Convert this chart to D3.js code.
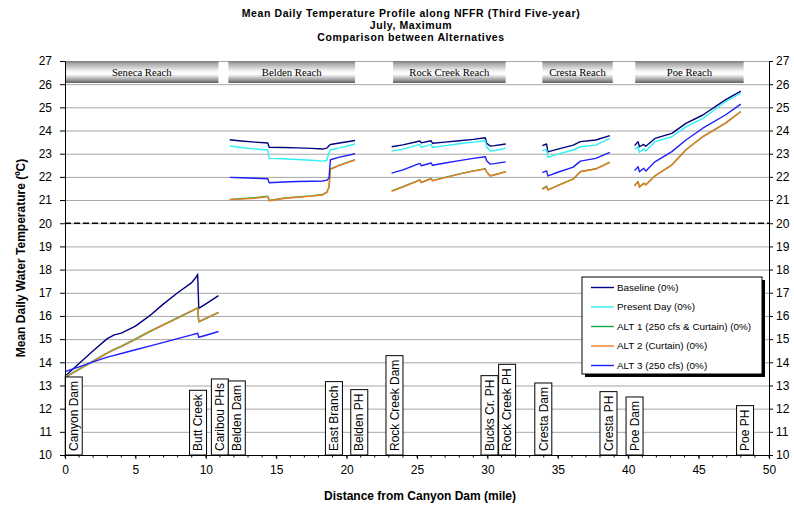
<!DOCTYPE html>
<html>
<head>
<meta charset="utf-8">
<script src="https://cdn.jsdelivr.net/npm/d3@7/dist/d3.min.js"></script>
<style>
  html, body { margin: 0; padding: 0; background: #fff; }
  svg { display: block; }
  text { font-family: Arial, "Liberation Sans", sans-serif; }
</style>
</head>
<body>
<svg id="chart" width="794" height="506"></svg>
<script>
// ---- Series ----
const seriesNames = ["Baseline (0%)", "Present Day (0%)", "ALT 1 (250 cfs & Curtain) (0%)", "ALT 2 (Curtain) (0%)", "ALT 3 (250 cfs) (0%)"];
const seriesColors = ["#000080", "#2ef0f5", "#12a84a", "#f07c1f", "#1f1fff"];

// ---- Reaches (miles from Canyon Dam) ----
const reachNames = ["Seneca Reach", "Belden Reach", "Rock Creek Reach", "Cresta Reach", "Poe Reach"];
const reachStart = [0, 11.6, 23.3, 33.9, 40.5];
const reachEnd   = [10.9, 20.6, 31.3, 38.9, 48.2];

// ---- Landmarks along the river ----
const siteNames = ["Canyon Dam", "Butt Creek", "Caribou PHs", "Belden Dam", "East Branch", "Belden PH",
                   "Rock Creek Dam", "Bucks Cr. PH", "Rock Creek PH", "Cresta Dam", "Cresta PH", "Poe Dam", "Poe PH"];
const siteMiles = [0.62, 9.45, 11.0, 12.2, 19.1, 20.9, 23.4, 30.15, 31.4, 33.97, 38.6, 40.45, 48.3];

// ---- Temperature profiles (deg C) ----
const senecaMiles    = [0, 1, 2, 3, 3.5, 4, 5, 6, 7, 8, 9, 9.3, 9.42, 9.5, 10.2, 10.9];
const senecaBaseline = [13.4, 13.95, 14.5, 15.02, 15.18, 15.26, 15.56, 16.0, 16.52, 17.0, 17.44, 17.66, 17.8, 16.33, 16.6, 16.88];
const senecaPresent  = [13.37, 13.72, 14.07, 14.42, 14.58, 14.71, 15.02, 15.34, 15.64, 15.94, 16.23, 16.32, 16.37, 15.76, 15.96, 16.16];
const senecaAlt1     = [13.34, 13.69, 14.04, 14.39, 14.55, 14.68, 14.99, 15.31, 15.61, 15.91, 16.21, 16.3, 16.34, 15.74, 15.94, 16.14];
const senecaAlt2     = [13.35, 13.7, 14.05, 14.4, 14.56, 14.69, 15.0, 15.32, 15.62, 15.92, 16.22, 16.31, 16.35, 15.75, 15.95, 16.15];
const senecaAlt3     = [13.6, 13.8, 14.02, 14.22, 14.3, 14.38, 14.54, 14.7, 14.86, 15.02, 15.18, 15.23, 15.26, 15.08, 15.2, 15.33];

const beldenMiles    = [11.7, 12.5, 13.5, 14.4, 14.5, 15.5, 16.5, 17.5, 18.3, 18.6, 18.75, 18.85, 19.5, 20.6];
const beldenBaseline = [23.6, 23.55, 23.5, 23.46, 23.28, 23.27, 23.25, 23.23, 23.2, 23.24, 23.34, 23.4, 23.46, 23.57];
const beldenPresent  = [23.33, 23.27, 23.2, 23.16, 22.8, 22.78, 22.75, 22.72, 22.68, 22.72, 23.05, 23.16, 23.25, 23.42];
const beldenAlt1     = [21.03, 21.06, 21.1, 21.17, 20.98, 21.08, 21.13, 21.18, 21.24, 21.34, 21.57, 22.34, 22.51, 22.74];
const beldenAlt2     = [21.02, 21.04, 21.08, 21.15, 20.97, 21.07, 21.12, 21.17, 21.22, 21.33, 21.55, 22.33, 22.5, 22.73];
const beldenAlt3     = [21.98, 21.96, 21.94, 21.92, 21.75, 21.78, 21.8, 21.81, 21.82, 21.86, 21.95, 22.74, 22.85, 23.0];

const rockMiles      = [23.2, 24, 25.2, 25.3, 26.0, 26.1, 27, 28, 29, 29.85, 29.95, 30.2, 30.5, 31.3];
const rockBaseline   = [23.3, 23.38, 23.55, 23.47, 23.56, 23.45, 23.5, 23.56, 23.62, 23.69, 23.45, 23.33, 23.35, 23.42];
const rockPresent    = [23.11, 23.2, 23.4, 23.27, 23.4, 23.27, 23.35, 23.43, 23.5, 23.56, 23.3, 23.11, 23.14, 23.23];
const rockAlt1       = [21.4, 21.58, 21.87, 21.76, 21.93, 21.84, 21.98, 22.13, 22.26, 22.35, 22.21, 22.05, 22.09, 22.23];
const rockAlt2       = [21.38, 21.56, 21.86, 21.75, 21.92, 21.83, 21.97, 22.12, 22.25, 22.34, 22.2, 22.04, 22.08, 22.22];
const rockAlt3       = [22.16, 22.3, 22.58, 22.48, 22.6, 22.5, 22.6, 22.7, 22.8, 22.87, 22.7, 22.55, 22.57, 22.65];

const crestaMiles    = [33.9, 34.2, 34.3, 35, 36.1, 36.6, 37.7, 38.7];
const crestaBaseline = [23.35, 23.42, 23.08, 23.2, 23.37, 23.52, 23.59, 23.78];
const crestaPresent  = [23.13, 23.19, 22.84, 22.98, 23.16, 23.3, 23.37, 23.66];
const crestaAlt1     = [21.48, 21.6, 21.44, 21.63, 21.91, 22.23, 22.35, 22.64];
const crestaAlt2     = [21.46, 21.57, 21.43, 21.62, 21.9, 22.22, 22.34, 22.63];
const crestaAlt3     = [22.18, 22.26, 22.04, 22.2, 22.42, 22.68, 22.8, 23.06];

const poeMiles       = [40.45, 40.7, 40.8, 41.1, 41.25, 41.9, 43.1, 44.1, 45.3, 46.9, 48.0];
const poeBaseline    = [23.35, 23.52, 23.3, 23.4, 23.32, 23.66, 23.88, 24.31, 24.67, 25.32, 25.7];
const poePresent     = [23.19, 23.3, 23.06, 23.2, 23.12, 23.52, 23.73, 24.16, 24.52, 25.24, 25.62];
const poeAlt1        = [21.62, 21.8, 21.56, 21.73, 21.66, 22.05, 22.52, 23.17, 23.74, 24.32, 24.82];
const poeAlt2        = [21.6, 21.79, 21.55, 21.72, 21.65, 22.04, 22.51, 23.16, 23.73, 24.31, 24.81];
const poeAlt3        = [22.27, 22.44, 22.22, 22.37, 22.25, 22.65, 23.09, 23.59, 24.1, 24.67, 25.14];

const xTicks = [0, 5, 10, 15, 20, 25, 30, 35, 40, 45, 50];
const yTicks = d3.range(10, 28);
const thresholdTemp = 20;

// group the profile arrays by series, one segment per reach
const reachMiles = [senecaMiles, beldenMiles, rockMiles, crestaMiles, poeMiles];
const seriesByReach = [
  [senecaBaseline, beldenBaseline, rockBaseline, crestaBaseline, poeBaseline],
  [senecaPresent,  beldenPresent,  rockPresent,  crestaPresent,  poePresent],
  [senecaAlt1,     beldenAlt1,     rockAlt1,     crestaAlt1,     poeAlt1],
  [senecaAlt2,     beldenAlt2,     rockAlt2,     crestaAlt2,     poeAlt2],
  [senecaAlt3,     beldenAlt3,     rockAlt3,     crestaAlt3,     poeAlt3]
];

// ---- Layout ----
const svg = d3.select("#chart");
const x = d3.scaleLinear().domain([0, 50]).range([65, 769]);
const y = d3.scaleLinear().domain([10, 27]).range([455, 61]);

// gradient for reach banners
const defs = svg.append("defs");
const grad = defs.append("linearGradient").attr("id", "banner").attr("x1", 0).attr("y1", 0).attr("x2", 0).attr("y2", 1);
[[0, "#7a7a7a"], [0.12, "#a8a8a8"], [0.45, "#f4f4f4"], [0.6, "#ffffff"], [0.85, "#a0a0a0"], [1, "#5e5e5e"]]
  .forEach(([o, c]) => grad.append("stop").attr("offset", o).attr("stop-color", c));

// horizontal gridlines
svg.append("g").selectAll("line").data(yTicks.filter(v => v > 10)).join("line")
  .attr("x1", x(0)).attr("x2", x(50))
  .attr("y1", d => y(d) + 0.5).attr("y2", d => y(d) + 0.5)
  .attr("stroke", "#a6a6a6").attr("stroke-width", 1);

// 20 deg threshold
svg.append("line")
  .attr("x1", x(0)).attr("x2", x(50))
  .attr("y1", y(thresholdTemp)).attr("y2", y(thresholdTemp))
  .attr("stroke", "#000").attr("stroke-width", 1.5).attr("stroke-dasharray", "6,3");

// reach banners
const banners = svg.append("g");
banners.selectAll("rect").data(reachNames).join("rect")
  .attr("x", (d, i) => x(reachStart[i]))
  .attr("width", (d, i) => x(reachEnd[i]) - x(reachStart[i]))
  .attr("y", y(27)).attr("height", y(26.05) - y(27))
  .attr("fill", "url(#banner)");
banners.selectAll("text").data(reachNames).join("text")
  .attr("x", (d, i) => (x(reachStart[i]) + x(reachEnd[i])) / 2)
  .attr("y", (y(27) + y(26.05)) / 2 + 4)
  .attr("text-anchor", "middle")
  .style("font-family", "'Liberation Serif', 'Times New Roman', serif")
  .style("font-size", "10.7px")
  .text(d => d);

// temperature lines
const line = d3.line().x(d => x(d[0])).y(d => y(d[1]));
const lines = svg.append("g").attr("fill", "none").attr("stroke-linejoin", "round");
seriesByReach.forEach((segs, si) => {
  segs.forEach((vals, ri) => {
    const pts = reachMiles[ri].map((m, k) => [m, vals[k]]);
    lines.append("path").attr("d", line(pts))
      .attr("stroke", seriesColors[si]).attr("stroke-width", 1.4);
  });
});

// landmark labels
const sites = svg.append("g");
siteNames.forEach((name, i) => {
  const cx = x(siteMiles[i]);
  const g = sites.append("g");
  const rect = g.append("rect");
  const t = g.append("text")
    .attr("transform", `translate(${cx},451) rotate(-90)`)
    .attr("dy", "0.35em")
    .style("font-size", "12px")
    .text(name);
  const len = t.node().getComputedTextLength();
  rect.attr("x", cx - 8.5).attr("width", 17)
    .attr("y", 451 - len - 4).attr("height", y(10) - (451 - len - 4))
    .attr("fill", "#fff").attr("stroke", "#000").attr("stroke-width", 1);
});

// axes
const axisStyle = g => {
  g.selectAll("text").style("font-size", "12px").style("font-family", "Arial, 'Liberation Sans', sans-serif").attr("fill", "#000");
  g.selectAll("line, path").attr("stroke", "#000");
};
svg.append("g").attr("transform", `translate(${x(0)},0)`)
  .call(d3.axisLeft(y).tickValues(yTicks).tickFormat(d3.format("d")).tickSize(5).tickPadding(8).tickSizeOuter(0))
  .call(axisStyle);
svg.append("g").attr("transform", `translate(${x(50)},0)`)
  .call(d3.axisRight(y).tickValues(yTicks).tickFormat(d3.format("d")).tickSize(4).tickPadding(3).tickSizeOuter(0))
  .call(axisStyle);
// minor ticks each mile
svg.append("g").selectAll("line").data(d3.range(0, 51)).join("line")
  .attr("x1", d => x(d)).attr("x2", d => x(d))
  .attr("y1", y(10)).attr("y2", y(10) + 2.5)
  .attr("stroke", "#000");
svg.append("g").attr("transform", `translate(0,${y(10)})`)
  .call(d3.axisBottom(x).tickValues(xTicks).tickFormat(d3.format("d")).tickSize(4).tickPadding(6).tickSizeOuter(0))
  .call(axisStyle);

// titles
const title = svg.append("g").attr("text-anchor", "middle")
  .style("font-weight", "bold").style("font-size", "10.5px").style("letter-spacing", "0.6px");
["Mean Daily Temperature Profile along NFFR (Third Five-year)", "July, Maximum", "Comparison between Alternatives"]
  .forEach((s, i) => title.append("text").attr("x", 411).attr("y", 17 + i * 12).text(s));

svg.append("text")
  .attr("transform", `translate(25,${(y(10) + y(27)) / 2}) rotate(-90)`)
  .attr("text-anchor", "middle")
  .style("font-weight", "bold").style("font-size", "12px")
  .text("Mean Daily Water Temperature (ºC)");

svg.append("text")
  .attr("x", (x(0) + x(50)) / 2 + 3).attr("y", 500)
  .attr("text-anchor", "middle")
  .style("font-weight", "bold").style("font-size", "12px")
  .text("Distance from Canyon Dam (mile)");

// legend
const lg = svg.append("g");
lg.append("rect").attr("x", 585).attr("y", 280).attr("width", 180).attr("height", 97).attr("fill", "#000");
lg.append("rect").attr("x", 582).attr("y", 277).attr("width", 180).attr("height", 97)
  .attr("fill", "#fff").attr("stroke", "#000").attr("stroke-width", 1);
seriesNames.forEach((name, i) => {
  const ly = 287.5 + i * 19.5;
  lg.append("line").attr("x1", 591).attr("x2", 614).attr("y1", ly).attr("y2", ly)
    .attr("stroke", seriesColors[i]).attr("stroke-width", 1.4);
  lg.append("text").attr("x", 617).attr("y", ly).attr("dy", "0.35em")
    .style("font-size", "9.9px").text(name);
});
</script>
</body>
</html>
